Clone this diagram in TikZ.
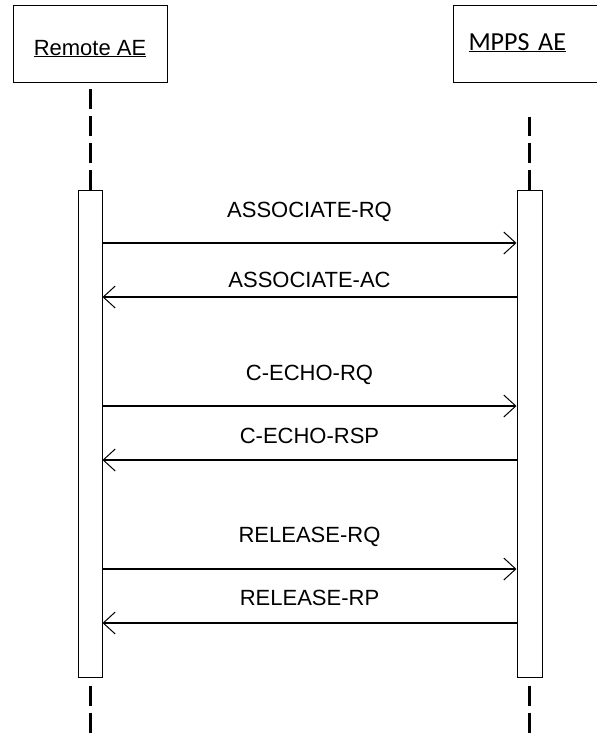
\documentclass[tikz,border=0pt]{standalone}
\usepackage{fontspec}
\setmainfont{Liberation Sans}
\newfontfamily\mppsfont{Carlito}
\usetikzlibrary{arrows.meta,positioning,calc}

\begin{document}
\begin{tikzpicture}[
  x=1pt, y=-1pt,
  head/.style={draw, line width=1pt, inner sep=0pt, minimum width=154pt,
               text height=50pt, text depth=27pt, font=\fontsize{22}{26}\selectfont},
  act/.style={draw, line width=1pt, fill=white, inner sep=0pt,
              minimum width=24pt, minimum height=487pt},
  life/.style={line width=3pt, dash pattern=on 20pt off 7pt},
  msg/.style={-{Straight Barb[length=12pt,width=22pt,line width=1pt]}, line width=1.2pt},
  lbl/.style={font=\fontsize{22}{26}\selectfont, inner sep=0pt, anchor=base}
]
\useasboundingbox (0,0) rectangle (597,734);
\clip (0,0) rectangle (597,734);

\node[head] (remote) at (90,43.5) {\underline{Remote AE}};
\node[head, anchor=west, minimum width=147pt, text width=117pt, inner xsep=15pt,
      align=left, text height=45pt, text depth=32pt,
      font=\mppsfont\fontsize{26}{30}\selectfont] (mpps) at (453,43.5) {\underline{MPPS AE}};

\node[act] (lact) at (90,433.5) {};
\node[act, minimum width=25pt] (ract) at (529.5,433.5) {};

% lifelines above and below the activations
\coordinate (ltop) at (90,88);
\coordinate (rtop) at (529.5,117);
\coordinate (lend) at (90,734);
\coordinate (rend) at (529.5,734);
\draw[life] (lact.north) -- (ltop);
\draw[life] (ract.north) -- (rtop);
\draw[life] ([yshift=-8pt]lact.south) -- (lend);
\draw[life] ([yshift=-8pt]ract.south) -- (rend);

\coordinate (m1) at (0,243);
\coordinate (m2) at (0,297);
\coordinate (m3) at (0,406);
\coordinate (m4) at (0,460);
\coordinate (m5) at (0,569);
\coordinate (m6) at (0,623);

\draw[msg] (lact.east |- m1) -- (ract.west |- m1)
  node[lbl, midway, yshift=26pt] {ASSOCIATE-RQ};
\draw[msg] (ract.west |- m2) -- (lact.east |- m2)
  node[lbl, midway, yshift=10pt] {ASSOCIATE-AC};
\draw[msg] (lact.east |- m3) -- (ract.west |- m3)
  node[lbl, midway, yshift=26pt] {C-ECHO-RQ};
\draw[msg] (ract.west |- m4) -- (lact.east |- m4)
  node[lbl, midway, yshift=17pt] {C-ECHO-RSP};
\draw[msg] (lact.east |- m5) -- (ract.west |- m5)
  node[lbl, midway, yshift=27pt] {RELEASE-RQ};
\draw[msg] (ract.west |- m6) -- (lact.east |- m6)
  node[lbl, midway, yshift=18pt] {RELEASE-RP};
\end{tikzpicture}
\end{document}
